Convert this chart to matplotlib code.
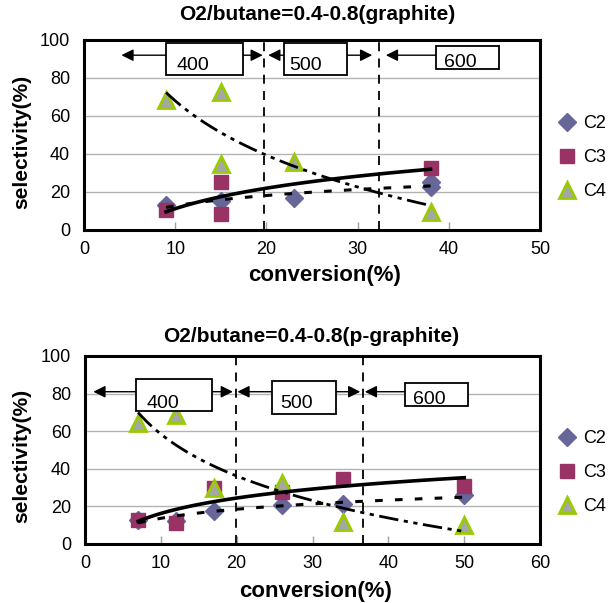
import numpy as np
import matplotlib
matplotlib.use("Agg")
import matplotlib.pyplot as plt
from matplotlib.patches import Rectangle

plt.rcParams['font.family'] = ['Liberation Sans', 'DejaVu Sans']

# ---------------- data ----------------
titles = ["O2/butane=0.4-0.8(graphite)", "O2/butane=0.4-0.8(p-graphite)"]
series_names = ["C2", "C3", "C4"]

# chart 1 (graphite)
g_c2_x = [9, 15, 23, 38, 38]
g_c2_y = [13, 15.4, 17, 25.5, 22.5]
g_c3_x = [9, 15, 15, 38]
g_c3_y = [10.5, 25.4, 8.2, 32.5]
g_c4_x = [9, 15, 15, 23, 38]
g_c4_y = [68.4, 72.8, 34.6, 36, 9.6]

# chart 2 (p-graphite)
p_c2_x = [7, 12, 17, 26, 34, 50]
p_c2_y = [13, 12.3, 17.6, 20.8, 21.2, 26]
p_c3_x = [7, 12, 17, 26, 34, 50]
p_c3_y = [12.7, 11, 29.6, 27.9, 34.4, 30.9]
p_c4_x = [7, 12, 17, 26, 34, 50]
p_c4_y = [64.4, 68.8, 30, 32.3, 11.8, 10.2]

temp_labels = ["400", "500", "600"]
g_boundaries = [19.7, 32.4]
p_boundaries = [19.9, 36.6]
x_limits = [50, 60]

# ---------------- styles ----------------
colors = {"C2": "#666699", "C3": "#993366", "C4": "#a6a6a6"}
c4_edge = "#99cc00"
marker_kw = {
    "C2": dict(marker="D", ms=9, color=colors["C2"], mec=colors["C2"], ls="none"),
    "C3": dict(marker="s", ms=10, color=colors["C3"], mec=colors["C3"], ls="none"),
    "C4": dict(marker="^", ms=12, color=colors["C4"], mec=c4_edge, mew=2, ls="none"),
}
trend_kw = {
    "C2": dict(color="k", lw=2.2, dashes=(2.5, 4)),
    "C3": dict(color="k", lw=2.6, ls="-"),
    "C4": dict(color="k", lw=2.0, dashes=(7, 2, 1.5, 2, 1.5, 2)),
}

fig = plt.figure(figsize=(6.12, 6.03), dpi=100)
W, H = 612, 603


def axes_px(l, t, r, b):
    return fig.add_axes([l / W, 1 - b / H, (r - l) / W, (b - t) / H])


ax1 = axes_px(84, 40, 540, 230)
ax2 = axes_px(85, 356, 540, 544)

charts = [
    (ax1, [(g_c2_x, g_c2_y), (g_c3_x, g_c3_y), (g_c4_x, g_c4_y)], g_boundaries, x_limits[0]),
    (ax2, [(p_c2_x, p_c2_y), (p_c3_x, p_c3_y), (p_c4_x, p_c4_y)], p_boundaries, x_limits[1]),
]

# annotation layout (data coords): arrow y, boxes (x0,x1,y0,y1), text pos, arrow tips
ann_layout = [
    dict(arrow_y=92,
         boxes=[(9.0, 17.4, 81.6, 98.4), (21.9, 28.8, 81.5, 98.3), (38.6, 45.5, 85, 97)],
         texts=[(10.1, 84.2), (22.5, 84.2), (39.5, 86)],
         arrows=[(9.0, 4.1), (17.4, 19.6), (21.9, 20.2), (28.8, 31.6), (38.6, 33.1)]),
    dict(arrow_y=81,
         boxes=[(6.7, 16.8, 70.5, 87.6), (24.7, 33.1, 69.3, 86.9), (42.2, 50.5, 73.5, 85.9)],
         texts=[(8.1, 72.6), (25.7, 72.5), (43.3, 74.6)],
         arrows=[(6.7, 1.1), (16.8, 19.5), (24.7, 20.1), (33.1, 36.3), (42.2, 36.9)]),
]

for i, (ax, data, bounds, xmax) in enumerate(charts):
    ax.set_xlim(0, xmax)
    ax.set_ylim(0, 100)
    ax.set_xticks(np.arange(0, xmax + 1, 10))
    ax.set_yticks(np.arange(0, 101, 20))
    ax.yaxis.grid(True, color="#b3b3b3", lw=1.0)
    ax.set_axisbelow(True)
    ax.tick_params(axis="x", direction="in", length=6, color="#a0a0a0", width=1,
                   labelsize=13, pad=8)
    ax.tick_params(axis="y", length=0, labelsize=13, pad=10)
    for s in ax.spines.values():
        s.set_linewidth(2.2)
        s.set_color("k")

    # data markers
    handles = []
    for name, (xs, ys) in zip(series_names, data):
        h, = ax.plot(xs, ys, label=name, zorder=3, **marker_kw[name])
        handles.append(h)
    # logarithmic trendlines fitted from the data
    for name, (xs, ys) in zip(series_names, data):
        xs = np.asarray(xs, float)
        ys = np.asarray(ys, float)
        a, b = np.polyfit(np.log(xs), ys, 1)
        xx = np.linspace(xs.min(), xs.max(), 100)
        ax.plot(xx, a * np.log(xx) + b, zorder=4, **trend_kw[name])

    # temperature boundaries
    for bx in bounds:
        ax.axvline(bx, color="k", lw=1.3, dashes=(5, 4), zorder=5)

    lay = ann_layout[i]
    y = lay["arrow_y"]
    for (x0, x1) in lay["arrows"]:
        ax.annotate("", xy=(x1, y), xytext=(x0, y),
                    arrowprops=dict(arrowstyle="-|>", color="k", lw=1.0,
                                    mutation_scale=18, shrinkA=0, shrinkB=0),
                    zorder=6)
    for (bx0, bx1, by0, by1), (tx, ty), lbl in zip(lay["boxes"], lay["texts"], temp_labels):
        ax.add_patch(Rectangle((bx0, by0), bx1 - bx0, by1 - by0, facecolor="white",
                               edgecolor="k", lw=1.3, zorder=7))
        ax.text(tx, ty, lbl, fontsize=14, ha="left", va="baseline", zorder=8)

    ax.legend(handles=handles, loc="center left", bbox_to_anchor=(1.02, 0.38),
              frameon=False, fontsize=13, labelspacing=0.95, handletextpad=0.3,
              handlelength=1.2, borderaxespad=0)

# titles and axis labels placed in figure pixels
fig.text(317 / W, 1 - 14 / H, titles[0], ha="center", va="center", fontsize=15, fontweight="bold")
fig.text(311 / W, 1 - 337 / H, titles[1], ha="center", va="center", fontsize=15, fontweight="bold")
fig.text(325 / W, 1 - 276 / H, "conversion(%)", ha="center", va="center", fontsize=16, fontweight="bold")
fig.text(316 / W, 1 - 591 / H, "conversion(%)", ha="center", va="center", fontsize=16, fontweight="bold")
fig.text(22 / W, 1 - 142 / H, "selectivity(%)", ha="center", va="center", rotation=90, fontsize=15, fontweight="bold")
fig.text(22 / W, 1 - 456 / H, "selectivity(%)", ha="center", va="center", rotation=90, fontsize=15, fontweight="bold")

fig.savefig("out.png", dpi=100)
